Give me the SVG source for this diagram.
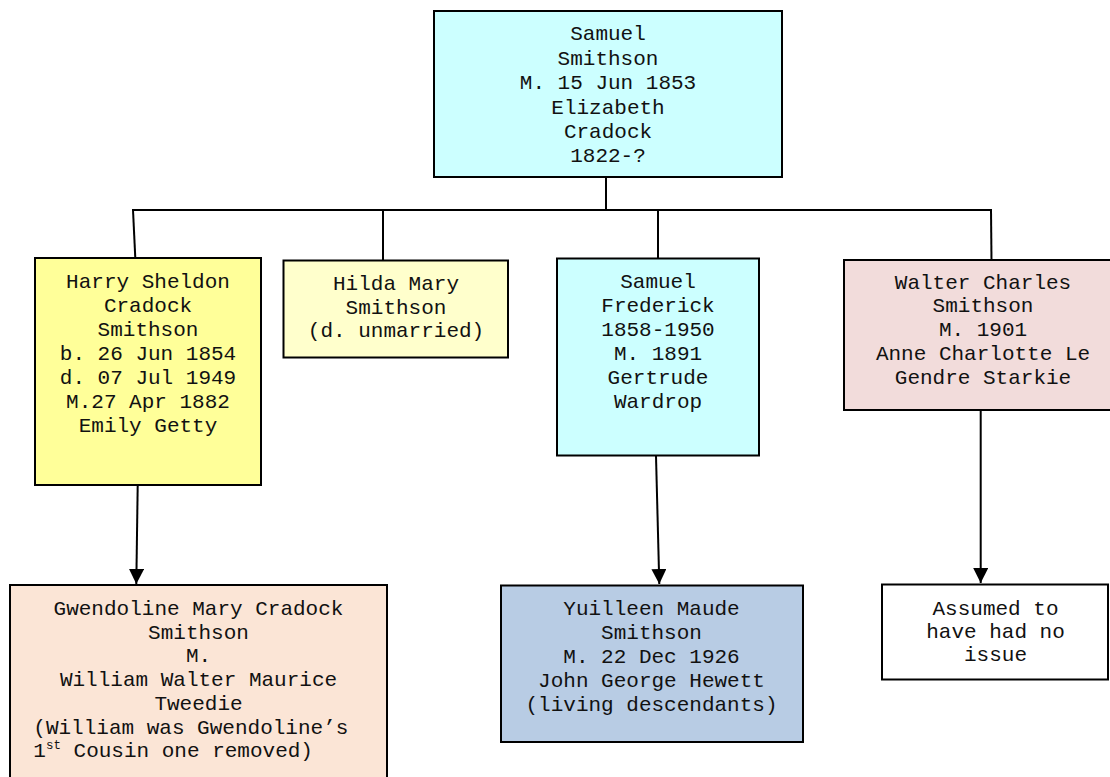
<svg xmlns="http://www.w3.org/2000/svg" width="1110" height="777" viewBox="0 0 1110 777">
<style>
  .box { stroke: #000; stroke-width: 2; }
  .t { font-family: "Liberation Mono", "Courier New", monospace; font-size: 21px; fill: #111; text-anchor: middle; }
  .tl { font-family: "Liberation Mono", "Courier New", monospace; font-size: 21px; fill: #111; }
  .c { stroke: #000; stroke-width: 2; fill: none; }
</style>
<defs>
  <marker id="arr" markerUnits="userSpaceOnUse" markerWidth="16" markerHeight="16" refX="15" refY="7.5" orient="auto">
    <path d="M0,0 L15,7.5 L0,15 Z" fill="#000"/>
  </marker>
</defs>
<rect width="1110" height="777" fill="#fff"/>

<g id="connectors">
  <line class="c" x1="606" y1="177" x2="606" y2="210"/>
  <line class="c" x1="132" y1="210" x2="992" y2="210"/>
  <line class="c" x1="133" y1="210" x2="135.3" y2="258"/>
  <line class="c" x1="383" y1="210" x2="383" y2="260"/>
  <line class="c" x1="658" y1="210" x2="658" y2="258"/>
  <line class="c" x1="991" y1="210" x2="991.5" y2="260"/>
  <line class="c" x1="137.7" y1="485" x2="136.3" y2="584" marker-end="url(#arr)"/>
  <line class="c" x1="656" y1="456" x2="659.3" y2="584" marker-end="url(#arr)"/>
  <line class="c" x1="980.7" y1="410" x2="980.7" y2="583" marker-end="url(#arr)"/>
</g>

<g id="samuel">
  <rect class="box" x="434" y="11" width="348" height="166" fill="#ccffff"/>
  <text class="t" x="608" y="40">Samuel</text>
  <text class="t" x="608" y="64.5">Smithson</text>
  <text class="t" x="608" y="89">M. 15 Jun 1853</text>
  <text class="t" x="608" y="113.5">Elizabeth</text>
  <text class="t" x="608" y="138">Cradock</text>
  <text class="t" x="608" y="162">1822-?</text>
</g>

<g id="harry">
  <rect class="box" x="35" y="258" width="226" height="227" fill="#ffff99"/>
  <text class="t" x="148" y="287.5">Harry Sheldon</text>
  <text class="t" x="148" y="311.5">Cradock</text>
  <text class="t" x="148" y="335.5">Smithson</text>
  <text class="t" x="148" y="359.5">b. 26 Jun 1854</text>
  <text class="t" x="148" y="383.5">d. 07 Jul 1949</text>
  <text class="t" x="148" y="407.5">M.27 Apr 1882</text>
  <text class="t" x="148" y="431.5">Emily Getty</text>
</g>

<g id="hilda">
  <rect class="box" x="283.5" y="260.5" width="224.5" height="97" fill="#ffffcc"/>
  <text class="t" x="396" y="290">Hilda Mary</text>
  <text class="t" x="396" y="313.5">Smithson</text>
  <text class="t" x="396" y="337">(d. unmarried)</text>
</g>

<g id="samuel-frederick">
  <rect class="box" x="557" y="258.5" width="202" height="197" fill="#ccffff"/>
  <text class="t" x="658" y="288">Samuel</text>
  <text class="t" x="658" y="312">Frederick</text>
  <text class="t" x="658" y="336">1858-1950</text>
  <text class="t" x="658" y="360">M. 1891</text>
  <text class="t" x="658" y="384">Gertrude</text>
  <text class="t" x="658" y="407.5">Wardrop</text>
</g>

<g id="walter">
  <rect class="box" x="844" y="260" width="280" height="150" fill="#f2dcdb"/>
  <text class="t" x="983" y="288.5">Walter Charles</text>
  <text class="t" x="983" y="312">Smithson</text>
  <text class="t" x="983" y="336">M. 1901</text>
  <text class="t" x="983" y="360">Anne Charlotte Le</text>
  <text class="t" x="983" y="383.5">Gendre Starkie</text>
</g>

<g id="gwendoline">
  <rect class="box" x="10" y="585" width="377" height="200" fill="#fbe5d6"/>
  <text class="t" x="198.5" y="615">Gwendoline Mary Cradock</text>
  <text class="t" x="198.5" y="638.7">Smithson</text>
  <text class="t" x="198.5" y="662.4">M.</text>
  <text class="t" x="198.5" y="686.1">William Walter Maurice</text>
  <text class="t" x="198.5" y="709.8">Tweedie</text>
  <text class="tl" x="33.3" y="733.5">(William was Gwendoline’s</text>
  <text class="tl" x="33.3" y="757.2">1<tspan font-size="12.5" dy="-8">st</tspan><tspan dy="8"> Cousin one removed)</tspan></text>
</g>

<g id="yuilleen">
  <rect class="box" x="501" y="585.5" width="302" height="156.5" fill="#b8cce4"/>
  <text class="t" x="651.5" y="615">Yuilleen Maude</text>
  <text class="t" x="651.5" y="639">Smithson</text>
  <text class="t" x="651.5" y="663">M. 22 Dec 1926</text>
  <text class="t" x="651.5" y="687">John George Hewett</text>
  <text class="t" x="651.5" y="710.5">(living descendants)</text>
</g>

<g id="assumed">
  <rect class="box" x="882" y="584.5" width="226" height="95" fill="#ffffff"/>
  <text class="t" x="995.5" y="614.5">Assumed to</text>
  <text class="t" x="995.5" y="637.5">have had no</text>
  <text class="t" x="995.5" y="660.5">issue</text>
</g>
</svg>
